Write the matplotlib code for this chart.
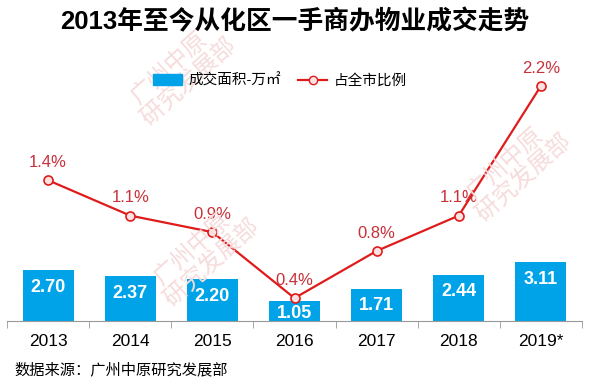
import matplotlib.pyplot as plt
import numpy as np
from matplotlib.patches import Patch
from matplotlib.lines import Line2D

plt.rcParams['font.family'] = ['Liberation Sans', 'Noto Sans CJK SC', 'DejaVu Sans']

years = ['2013', '2014', '2015', '2016', '2017', '2018', '2019*']
area = [2.70, 2.37, 2.20, 1.05, 1.71, 2.44, 3.11]          # 成交面积-万㎡
share = [1.4, 1.1, 0.96, 0.4, 0.8, 1.1, 2.2]               # 占全市比例 %（按图中点位读取）
share_labels = ['1.4%', '1.1%', '0.9%', '0.4%', '0.8%', '1.1%', '2.2%']

bar_color = '#00a3e8'
line_color = '#e01b1b'
label_red = '#c8303a'

fig = plt.figure(figsize=(5.89, 3.85), dpi=100)

# 水印
for (wx, wy) in [(0.30, 0.80), (0.34, 0.33), (0.87, 0.55)]:
    fig.text(wx, wy, '广州中原\n  研究发展部', rotation=42, ha='center', va='center',
             fontsize=17, color='#f6dcdc', zorder=0, linespacing=1.0,
             family=['Noto Sans CJK SC'])

ax = fig.add_axes([0.012, 0.166, 0.976, 0.678])
ax.patch.set_alpha(0)
x = np.arange(len(years))

ax.bar(x, area, width=0.62, color=bar_color, zorder=2)
for xi, v in zip(x, area):
    ax.text(xi, max(v - 0.9, 0.4), f'{v:.2f}', ha='center', va='center',
            color='white', fontsize=13, fontweight='bold', zorder=3)

ax.set_xlim(-0.5, len(years) - 0.5)
ax.set_ylim(0, 13.8)
ax.set_yticks([])
for s in ['top', 'right', 'left']:
    ax.spines[s].set_visible(False)
ax.spines['bottom'].set_color('#999999')
ax.set_xticks(x)
ax.set_xticklabels(years, fontsize=12.5)
ax.tick_params(axis='x', length=0, pad=9)
ax.set_xticks(np.arange(-0.5, len(years), 1.0), minor=True)
ax.tick_params(axis='x', which='minor', length=5, color='#999999', direction='out')

ax2 = ax.twinx()
ax2.set_ylim(0.205, 2.42)
ax2.axis('off')
ax2.plot(x, share, color=line_color, lw=1.6, marker='o', ms=6.5,
         mfc='#fbe3e3', mec=line_color, mew=1.2, zorder=4)
for xi, v, lab in zip(x, share, share_labels):
    ax2.annotate(lab, (xi, v), xytext=(0, 7.5), textcoords='offset points',
                 ha='center', va='bottom', color=label_red, fontsize=12)

# 图例
handles = [Patch(color=bar_color),
           Line2D([0], [0], color=line_color, lw=1.6, marker='o', ms=6,
                  mfc='#fbe3e3', mec=line_color)]
fig.legend(handles, ['成交面积-万㎡', '占全市比例'], loc='center',
           bbox_to_anchor=(0.475, 0.79), ncol=2, frameon=False, fontsize=10.5,
           handlelength=2.0, handleheight=0.8, columnspacing=1.2, handletextpad=0.4)

fig.text(0.5, 0.943, '2013年至今从化区一手商办物业成交走势', ha='center', va='center',
         fontsize=18.5, fontweight='bold')
fig.text(0.024, 0.04, '数据来源：广州中原研究发展部', ha='left', va='center', fontsize=11,
         family=['Noto Sans CJK SC'])

fig.savefig('out.png', dpi=100)
